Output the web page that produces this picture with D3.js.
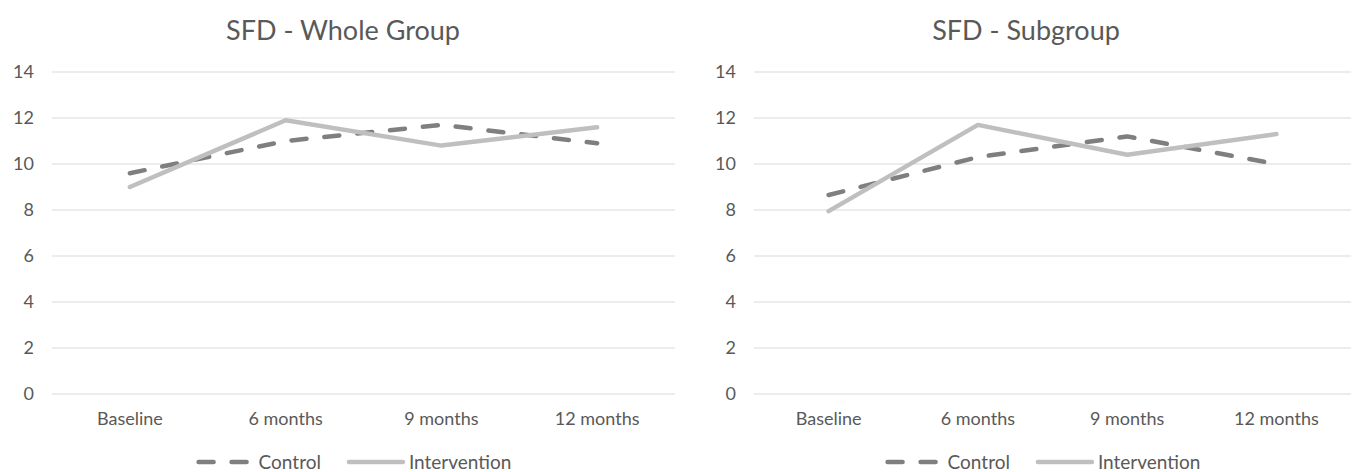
<!DOCTYPE html>
<html>
<head>
<meta charset="utf-8">
<script src="https://cdn.jsdelivr.net/npm/d3@7"></script>
<style>
  html, body { margin: 0; padding: 0; background: #fff; }
  svg { display: block; }
  text { font-family: Lato, "Open Sans", sans-serif; fill: #595959; }
</style>
</head>
<body>
<svg id="chart" width="1358" height="472"></svg>
<script>
// Time points shared by both panels
const timepoints = ["Baseline", "6 months", "9 months", "12 months"];
const yTicks = [0, 2, 4, 6, 8, 10, 12, 14];
const seriesNames = ["Control", "Intervention"];

// SFD - Whole Group
const wholeControl = [9.6, 11.0, 11.7, 10.9];
const wholeIntervention = [9.0, 11.9, 10.8, 11.6];

// SFD - Subgroup
const subControl = [8.65, 10.3, 11.2, 10.0];
const subIntervention = [7.95, 11.7, 10.4, 11.3];

const svg = d3.select("#chart");

const styles = {
  Control: { color: "#7f7f7f", dash: "15 18", cap: "round" },
  Intervention: { color: "#bfbfbf", dash: null, cap: "round" }
};

function drawPanel(opts) {
  const g = svg.append("g");
  const x = d3.scaleBand().domain(timepoints).range([opts.left, opts.right]);
  const y = d3.scaleLinear().domain([0, 14]).range([394, 72]);

  // gridlines
  g.append("g")
    .selectAll("line")
    .data(yTicks)
    .join("line")
    .attr("x1", opts.left).attr("x2", opts.right)
    .attr("y1", d => y(d)).attr("y2", d => y(d))
    .attr("stroke", "#d9d9d9").attr("stroke-width", 1.2);

  // y axis labels
  const yAxis = g.append("g")
    .attr("transform", `translate(${opts.left - 18},0)`)
    .call(d3.axisLeft(y).tickValues(yTicks).tickSize(0).tickPadding(0));
  yAxis.select(".domain").remove();
  yAxis.selectAll("text")
    .style("font-size", "18px")
    .style("font-family", "Lato, sans-serif")
    .attr("fill", "#595959");

  // x axis labels
  const xAxis = g.append("g")
    .attr("transform", `translate(0,${y(0) + 18})`)
    .call(d3.axisBottom(x).tickSize(0).tickPadding(0));
  xAxis.select(".domain").remove();
  xAxis.selectAll("text")
    .style("font-size", "18px")
    .style("font-family", "Lato, sans-serif")
    .attr("fill", "#595959");

  // title
  g.append("text")
    .attr("x", opts.titleX).attr("y", 40)
    .attr("text-anchor", "middle")
    .style("font-size", "27px")
    .text(opts.title);

  const line = d3.line()
    .x((d, i) => x(timepoints[i]) + x.bandwidth() / 2)
    .y(d => y(d));

  const series = [
    { name: "Control", values: opts.control },
    { name: "Intervention", values: opts.intervention }
  ];
  series.forEach(s => {
    const st = styles[s.name];
    g.append("path")
      .datum(s.values)
      .attr("d", line)
      .attr("fill", "none")
      .attr("stroke", st.color)
      .attr("stroke-width", 4.5)
      .attr("stroke-linecap", st.cap)
      .attr("stroke-linejoin", "round")
      .attr("stroke-dasharray", st.dash);
  });

  // legend
  const leg = g.append("g");
  let cx = 0;
  const sampleLen = 56;
  seriesNames.forEach(name => {
    const st = styles[name];
    leg.append("line")
      .attr("x1", cx + 2).attr("x2", cx + sampleLen)
      .attr("y1", 0).attr("y2", 0)
      .attr("stroke", st.color).attr("stroke-width", 4.5)
      .attr("stroke-linecap", st.cap)
      .attr("stroke-dasharray", st.dash);
    cx += sampleLen + 6;
    const t = leg.append("text")
      .attr("x", cx).attr("y", 0).attr("dy", "0.35em")
      .style("font-size", "19px")
      .text(name);
    cx += t.node().getComputedTextLength() + 26;
  });
  const legW = cx - 26;
  leg.attr("transform", `translate(${opts.legendX - legW / 2},462)`);
}

drawPanel({
  title: "SFD - Whole Group",
  left: 52, right: 675, titleX: 343, legendX: 354,
  control: wholeControl, intervention: wholeIntervention
});

drawPanel({
  title: "SFD - Subgroup",
  left: 754, right: 1351, titleX: 1026, legendX: 1043,
  control: subControl, intervention: subIntervention
});
</script>
</body>
</html>
